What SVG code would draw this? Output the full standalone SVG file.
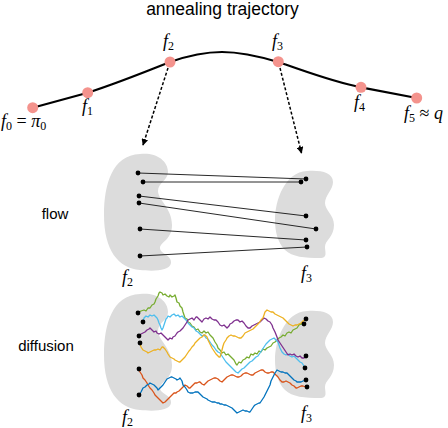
<svg xmlns="http://www.w3.org/2000/svg" width="448" height="428" viewBox="0 0 448 428">
<style>
.title{font-family:"Liberation Sans",Arial,sans-serif;font-size:17.5px;fill:#000}
.lbl{font-family:"Liberation Sans",Arial,sans-serif;font-size:15px;fill:#000}
.m{font-family:"Liberation Serif","Times New Roman",serif;font-size:18px;fill:#000}
.i{font-style:italic}
.sub{font-size:12px}
.blob{fill:#dcdcdc;stroke:none}
.traj{fill:none;stroke:#000;stroke-width:2.2;stroke-linejoin:round}
.node{fill:#f4938d}
.dash{fill:none;stroke:#000;stroke-width:1.5;stroke-dasharray:3 2}
.fl{fill:none;stroke:#111;stroke-width:0.9}
.pt{fill:#000}
.walk{fill:none;stroke-width:1.3;stroke-linejoin:round}
</style>
<defs>
<marker id="ah" viewBox="0 0 10 10" refX="9" refY="5" markerWidth="4.5" markerHeight="4.5" orient="auto" markerUnits="strokeWidth">
<path d="M0,0 L10,5 L0,10 Z" fill="#000"/>
</marker>
<path id="blobL" d="M140,154 C155,152 168,160 168,172 C168,180 158,183 158,191 C158,200 172,208 172,225 C172,240 160,242 160,248 C160,254 172,255 171,263 C170,272 150,271 140,270 C118,268 104,250 104,215 C104,185 112,155 140,154 Z"/>
<path id="blobR" d="M307,171 C320,170 333,172 333,182 C333,190 325,195 325,203 C325,210 334,215 334,225 C334,237 325,240 325,247 C325,252 328,258 320,258 C305,258 292,257 285,250 C278,243 275,232 275,220 C275,200 285,172 307,171 Z"/>
</defs>

<text class="title" x="222.5" y="15" text-anchor="middle">annealing trajectory</text>

<g id="trajectory">
<path class="traj" d="M32.7,107.7 L87.7,92.7 C115,84 145,72 170,62 C190,55 205,52 222,52 C240,52 258,56 278,62 C305,71 333,82 361,87.3 L416.7,98"/>
</g>

<g id="connectors">
<path class="dash" d="M168,68 L143,145" marker-end="url(#ah)"/>
<path class="dash" d="M280,68 L301.5,153" marker-end="url(#ah)"/>
</g>

<g id="f0"><circle class="node" cx="32.7" cy="107.7" r="5.5"/>
<text class="m" x="1" y="127"><tspan class="i">f</tspan><tspan class="sub" dy="3">0</tspan><tspan dy="-3"> = </tspan><tspan class="i">π</tspan><tspan class="sub" dy="3">0</tspan></text></g>
<g id="f1"><circle class="node" cx="87.7" cy="92.7" r="5.5"/>
<text class="m" x="82" y="112"><tspan class="i">f</tspan><tspan class="sub" dy="3">1</tspan></text></g>
<g id="f2"><circle class="node" cx="170" cy="62" r="5.5"/>
<text class="m" x="163" y="47"><tspan class="i">f</tspan><tspan class="sub" dy="3">2</tspan></text></g>
<g id="f3"><circle class="node" cx="278.3" cy="61.7" r="5.5"/>
<text class="m" x="272" y="47"><tspan class="i">f</tspan><tspan class="sub" dy="3">3</tspan></text></g>
<g id="f4"><circle class="node" cx="361" cy="87.3" r="5.5"/>
<text class="m" x="354" y="108"><tspan class="i">f</tspan><tspan class="sub" dy="3">4</tspan></text></g>
<g id="f5"><circle class="node" cx="416.7" cy="98" r="5.5"/>
<text class="m" x="404" y="119"><tspan class="i">f</tspan><tspan class="sub" dy="3">5</tspan><tspan dy="-3"> ≈ </tspan><tspan class="i">q</tspan></text></g>

<g id="flow">
<text class="lbl" x="55" y="219" text-anchor="middle">flow</text>
<use href="#blobL" class="blob"/>
<use href="#blobR" class="blob"/>
<text class="m" x="122" y="283"><tspan class="i">f</tspan><tspan class="sub" dy="3">2</tspan></text>
<text class="m" x="301" y="279"><tspan class="i">f</tspan><tspan class="sub" dy="3">3</tspan></text>
<g id="flow-lines">
<line class="fl" x1="138" y1="173" x2="306" y2="179"/>
<line class="fl" x1="143" y1="182" x2="301" y2="182" stroke="#666"/>
<line class="fl" x1="139" y1="196" x2="306" y2="216"/>
<line class="fl" x1="139" y1="203" x2="316" y2="229"/>
<line class="fl" x1="140" y1="229" x2="306" y2="240"/>
<line class="fl" x1="140" y1="256" x2="307" y2="247"/>
</g>
<g id="flow-points">
<circle class="pt" cx="138" cy="173" r="2.4"/><circle class="pt" cx="143" cy="182" r="2.4"/><circle class="pt" cx="139" cy="196" r="2.4"/><circle class="pt" cx="139" cy="203" r="2.4"/><circle class="pt" cx="140" cy="229" r="2.4"/><circle class="pt" cx="140" cy="256" r="2.4"/>
<circle class="pt" cx="306" cy="179" r="2.4"/><circle class="pt" cx="301" cy="182" r="2.4"/><circle class="pt" cx="306" cy="216" r="2.4"/><circle class="pt" cx="316" cy="229" r="2.4"/><circle class="pt" cx="306" cy="240" r="2.4"/><circle class="pt" cx="307" cy="247" r="2.4"/>
</g>
</g>

<g id="diffusion">
<text class="lbl" x="46" y="351" text-anchor="middle">diffusion</text>
<use href="#blobL" class="blob" transform="translate(0,140)"/>
<use href="#blobR" class="blob" transform="translate(0,140)"/>
<text class="m" x="122" y="423"><tspan class="i">f</tspan><tspan class="sub" dy="3">2</tspan></text>
<text class="m" x="301" y="419"><tspan class="i">f</tspan><tspan class="sub" dy="3">3</tspan></text>
<g id="walks">
<polyline class="walk" stroke="#77ac30" points="138,313 141,311 144,310 146,311 148,308 150,308 152,305 154,304 155,302 156,299 158,296 159,293 160,292 162,293 163,295 165,294 167,296 169,297 170,295 172,297 174,296 175,295 176,298 177,302 179,303 180,306 182,308 183,312 184,315 185,318 187,319 188,322 190,323 192,326 194,327 196,330 198,329 200,332 202,333 204,331 206,333 208,332 210,335 212,337 213,338 215,342 217,345 218,348 220,350 222,353 224,352 226,355 228,354 230,356 232,358 234,360 236,364 237,365 239,362 241,363 243,360 245,359 247,357 249,358 251,354 253,355 255,353 257,354 259,351 261,352 263,349 265,350 267,348 269,347 271,346 273,343 275,342 277,340 279,338 281,337 283,335 285,336 287,333 289,332 291,333 293,330 295,329 297,328 299,325 301,324 304,324"/>
<polyline class="walk" stroke="#4dbeee" points="143,322 144,318 146,316 148,317 150,315 152,316 154,315 156,317 157,318 158,320 159,323 160,325 161,328 162,330 163,328 164,325 165,322 166,319 167,318 168,316 170,317 172,315 174,314 176,316 178,315 180,317 182,316 184,318 186,320 188,323 190,325 192,327 194,328 196,331 198,332 200,334 202,336 204,335 206,338 208,339 210,342 212,345 214,347 216,350 218,352 220,353 222,356 224,359 226,362 228,364 230,366 232,368 234,370 236,372 238,373 240,371 242,369 244,368 246,366 248,364 250,362 252,361 254,359 256,357 258,356 260,353 262,350 264,347 266,344 268,342 270,340 272,339 274,338 276,340 278,342 279,345 280,348 282,352 284,354 286,355 288,354 290,356 292,357 294,356 296,358 298,360 300,362 302,363 304,366 305,368"/>
<polyline class="walk" stroke="#7e2f8e" points="139,336 141,334 143,333 145,332 147,330 149,329 150,328 152,330 154,332 156,331 157,333 159,334 161,333 163,335 165,337 166,338 168,340 170,338 172,339 173,337 175,336 177,333 178,332 180,331 182,329 183,328 185,325 187,322 188,320 190,319 192,318 194,320 196,317 197,317 199,319 201,321 202,322 204,319 206,318 208,319 210,317 212,319 214,320 216,320 218,322 220,325 222,326 224,325 226,327 227,328 229,326 230,324 232,323 234,321 236,320 238,320 240,322 242,321 244,323 246,326 248,328 250,328 252,326 254,325 256,324 258,323 260,322 262,320 264,318 266,319 268,321 270,322 272,325 273,328 275,332 277,337 278,340 280,343 282,346 284,349 286,352 288,355 290,354 292,355 294,354 296,356 298,357 300,356 302,358 304,358 306,356"/>
<polyline class="walk" stroke="#edb120" points="140,343 141,347 143,350 145,351 147,352 148,353 150,352 152,351 154,350 156,350 158,349 160,350 162,347 163,347 165,349 167,352 168,354 170,357 172,358 174,359 175,360 177,361 179,362 180,362 182,360 184,358 185,357 187,354 189,351 190,350 192,347 194,345 195,343 197,341 199,339 200,338 202,337 204,335 205,335 207,337 208,340 210,344 212,348 214,351 216,354 217,355 219,357 220,357 221,354 222,350 223,346 224,343 226,340 227,338 229,336 231,335 233,336 235,336 237,337 239,338 241,338 243,336 245,333 247,332 249,331 251,330 253,329 255,327 257,325 259,323 261,320 263,318 264,315 265,312 267,310 269,311 271,312 273,312 275,314 277,315 279,316 281,317 283,318 285,320 287,322 289,324 291,325 293,326 295,325 297,325 299,324 301,323 303,321 306,319"/>
<polyline class="walk" stroke="#d95319" points="139,369 140,372 142,375 143,378 145,380 147,383 148,385 150,388 152,390 154,393 155,395 157,397 159,399 160,400 162,402 163,403 165,402 167,400 169,398 171,396 172,395 174,393 176,393 177,392 179,391 180,390 182,388 184,386 185,385 187,386 189,388 190,388 192,386 194,384 195,383 197,383 199,382 200,382 202,384 204,385 206,383 208,381 210,380 212,379 214,378 216,378 218,379 220,381 222,382 224,380 226,378 227,377 229,376 231,375 233,375 235,376 237,377 239,377 241,376 243,374 245,373 247,373 249,374 251,375 253,375 255,373 257,372 259,371 261,370 263,370 265,372 267,373 269,373 271,372 273,372 275,374 277,376 278,377 280,380 282,382 284,382 286,381 288,382 290,383 292,385 294,386 296,388 297,388 299,387 301,386 303,386 306,387"/>
<polyline class="walk" stroke="#0072bd" points="139,395 141,392 143,388 145,387 147,385 149,384 150,383 152,384 154,385 155,386 157,388 158,390 160,388 162,386 163,385 165,382 167,379 169,378 171,377 172,377 174,378 176,379 177,380 179,379 180,378 182,381 183,385 185,387 187,390 188,392 190,393 192,393 193,393 195,392 197,392 198,392 200,394 202,396 203,397 205,398 207,399 208,400 210,401 212,402 213,402 215,402 217,403 219,403 220,404 222,404 224,405 226,405 228,406 230,407 232,408 234,410 236,412 237,413 239,412 241,411 243,410 245,411 247,411 249,412 250,412 252,409 254,406 255,405 257,404 259,403 260,403 262,400 264,397 265,395 267,391 269,387 270,385 271,381 273,377 275,373 277,370 279,371 281,372 283,372 285,373 287,373 289,375 291,377 292,378 294,380 296,381 297,382 299,382 301,382 303,381 306,380"/>
</g>
<g id="diffusion-points">
<circle class="pt" cx="138" cy="313" r="2.4"/><circle class="pt" cx="143" cy="322" r="2.4"/><circle class="pt" cx="139" cy="336" r="2.4"/><circle class="pt" cx="140" cy="343" r="2.4"/><circle class="pt" cx="139" cy="369" r="2.4"/><circle class="pt" cx="139" cy="395" r="2.4"/>
<circle class="pt" cx="306" cy="319" r="2.4"/><circle class="pt" cx="304" cy="324" r="2.4"/><circle class="pt" cx="306" cy="356" r="2.4"/><circle class="pt" cx="305" cy="368" r="2.4"/><circle class="pt" cx="306" cy="380" r="2.4"/><circle class="pt" cx="307" cy="387" r="2.4"/>
</g>
</g>
</svg>
